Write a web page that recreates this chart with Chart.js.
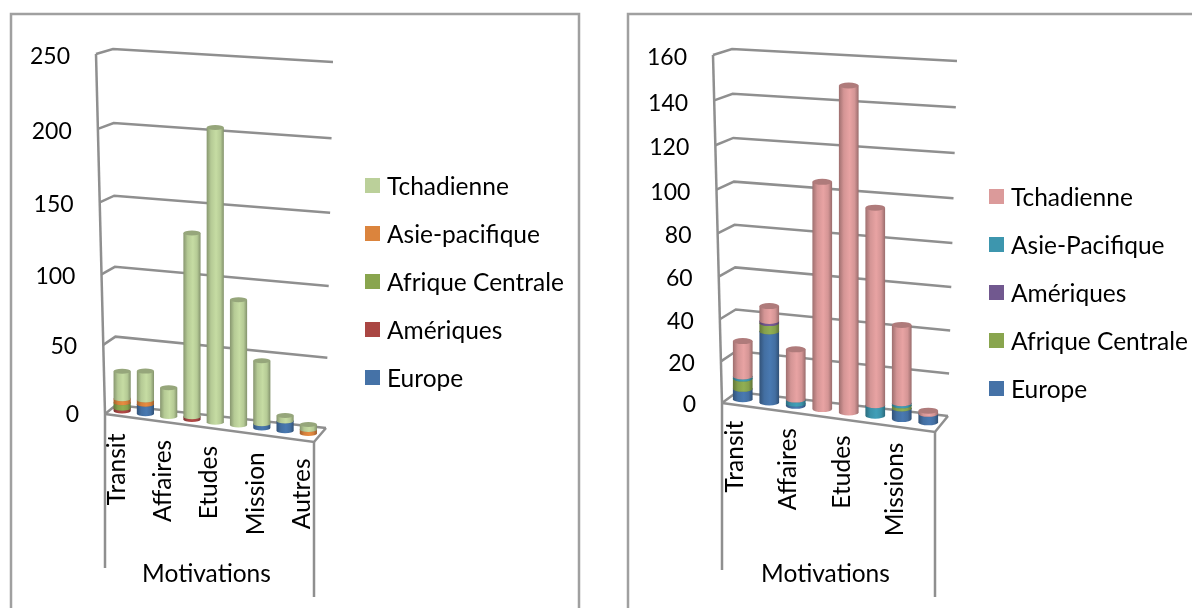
<!DOCTYPE html>
<html>
<head>
<meta charset="utf-8">
<title>Motivations</title>
<script src="https://cdn.jsdelivr.net/npm/chart.js@4"></script>
<style>
    html, body { margin: 0; padding: 0; background: #fff; width: 1192px; height: 608px; overflow: hidden; }
    canvas { position: absolute; top: 0; }
    #graficoA { left: 0; }
    #graficoB { left: 596px; }
    .legenda { position: absolute; font: 24.5px Lato, sans-serif; color: #000; }
    .legenda div { display: flex; align-items: center; height: 48px; white-space: nowrap; }
    .legenda span { display: inline-block; width: 15px; height: 15px; margin-right: 7px; }
</style>
</head>
<body>
<canvas id="graficoA" width="596" height="608"></canvas>
<canvas id="graficoB" width="596" height="608"></canvas>
<div class="legenda" id="legendaA" style="left:365px;top:161px"></div>
<div class="legenda" id="legendaB" style="left:989px;top:172px"></div>

<script>
// Graphique de gauche
const categoriesA = ['Transit', '', 'Affaires', '', 'Etudes', '', 'Mission', '', 'Autres'];
const europeA = [0, 7, 0, 0, 0, 0, 3, 7, 0];
const ameriquesA = [2, 0, 0, 2, 0, 0, 0, 0, 0];
const afriqueCentraleA = [4, 0, 0, 0, 0, 0, 0, 0, 0];
const asiePacifiqueA = [3, 3, 0, 0, 0, 0, 0, 0, 3];
const tchadienneA = [20, 21, 21, 130, 205, 89, 45, 4, 3.5];

// Graphique de droite
const categoriesB = ['Transit', '', 'Affaires', '', 'Etudes', '', 'Missions', ''];
const europeB = [5, 34, 1, 0, 0, 0, 5, 4];
const afriqueCentraleB = [5, 4, 0, 0, 0, 0, 1.5, 0];
const ameriquesB = [0, 1, 0, 0, 0, 0, 0, 0];
const asiePacifiqueB = [1, 0, 2, 0, 0, 5, 1, 0];
const tchadienneB = [17, 7, 24, 105.5, 149, 91, 36.5, 1.5];

const titreAxe = 'Motivations';
const police = 'Lato, sans-serif';
const gris = '#8f8f8f';

// Les axes du dessin 3D : coins du mur et du sol, en pixels du canvas
const decorA = {
    coinBas: [105, 414], coinHaut: [96, 54],
    fondBas: [116, 405], fondHaut: [113, 49],
    finBas: [326, 428], finHaut: [333, 62],
    avantBas: [314, 442],
    piedGauche: 568, piedDroit: 597, ecartLabels: 18, rayon: 2.5,
    cadre: [11, 14, 579]
};
const decorB = {
    coinBas: [126, 403], coinHaut: [117, 55],
    fondBas: [141, 392], fondHaut: [136, 49],
    finBas: [352, 416], finHaut: [361, 61],
    avantBas: [339, 432],
    piedGauche: 570, piedDroit: 597, ecartLabels: 16, rayon: 3,
    cadre: [32, 14, 640]
};

const melange = (a, b, t) => [a[0] + (b[0] - a[0]) * t, a[1] + (b[1] - a[1]) * t];

// Légère correction de perspective sur la hauteur
const perspective = v => v - 0.05 * v * (1 - v);

function nuance(hex, f) {
    const n = parseInt(hex.slice(1), 16);
    const c = [n >> 16, (n >> 8) & 255, n & 255].map(x => Math.min(255, Math.round(x * f)));
    return `rgb(${c[0]},${c[1]},${c[2]})`;
}

function ligne(ctx, points) {
    ctx.beginPath();
    points.forEach((p, i) => i ? ctx.lineTo(p[0], p[1]) : ctx.moveTo(p[0], p[1]));
    ctx.stroke();
}

function dessinerCylindre(ctx, x, bas, haut, largeur, rayon, couleur) {
    const g = ctx.createLinearGradient(x - largeur / 2, 0, x + largeur / 2, 0);
    g.addColorStop(0, nuance(couleur, 0.72));
    g.addColorStop(0.25, nuance(couleur, 0.97));
    g.addColorStop(0.55, nuance(couleur, 1.06));
    g.addColorStop(0.8, nuance(couleur, 0.97));
    g.addColorStop(1, nuance(couleur, 0.7));
    ctx.fillStyle = g;
    ctx.beginPath();
    ctx.moveTo(x - largeur / 2, haut);
    ctx.lineTo(x - largeur / 2, bas);
    ctx.ellipse(x, bas, largeur / 2, rayon, 0, Math.PI, 0, true);
    ctx.lineTo(x + largeur / 2, haut);
    ctx.closePath();
    ctx.fill();
    // Le couvercle
    ctx.fillStyle = nuance(couleur, 0.8);
    ctx.beginPath();
    ctx.ellipse(x, haut, largeur / 2, rayon, 0, 0, Math.PI * 2);
    ctx.fill();
}

const decor3D = {
    id: 'decor3D',
    beforeDraw(chart, args, opts) {
        const ctx = chart.ctx;
        const d = opts.decor;
        const echelleY = chart.scales.y;
        ctx.save();
        ctx.strokeStyle = '#a0a0a0';
        ctx.lineWidth = 2.5;
        // Cadre du graphique
        ligne(ctx, [[d.cadre[0], 620], [d.cadre[0], d.cadre[1]], [d.cadre[2], d.cadre[1]], [d.cadre[2], 620]]);

        ctx.strokeStyle = gris;
        // Lignes de grille sur le mur
        echelleY.ticks.forEach(t => {
            const v = perspective(t.value / echelleY.max);
            ligne(ctx, [
                melange(d.coinBas, d.coinHaut, v),
                melange(d.fondBas, d.fondHaut, v),
                melange(d.finBas, d.finHaut, v)
            ]);
        });
        ligne(ctx, [d.coinBas, d.coinHaut]);
        // Le sol
        ligne(ctx, [d.coinBas, d.avantBas, d.finBas]);
        ligne(ctx, [d.coinBas, [d.coinBas[0], d.piedGauche]]);
        ligne(ctx, [d.avantBas, [d.avantBas[0], d.piedDroit]]);
        ctx.restore();
    },
    beforeDatasetsDraw(chart, args, opts) {
        const ctx = chart.ctx;
        const d = opts.decor;
        const area = chart.chartArea;
        const basG = melange(d.coinBas, d.fondBas, 0.5);
        const basD = melange(d.avantBas, d.finBas, 0.5);
        const hautG = melange(d.coinHaut, d.fondHaut, 0.5);
        const hautD = melange(d.finHaut, [d.finHaut[0] - 16, d.finHaut[1] + 11], 0.5);
        const position = (x, pixelY) => {
            const u = (x - area.left) / area.width;
            const v = perspective((area.bottom - pixelY) / area.height);
            const bas = melange(basG, basD, u);
            const haut = melange(hautG, hautD, u);
            return [bas[0], bas[1] + (haut[1] - bas[1]) * v];
        };
        // Du bas vers le haut, pour que chaque tranche recouvre la précédente
        chart.data.datasets.forEach((ds, i) => {
            chart.getDatasetMeta(i).data.forEach((bar, j) => {
                if (!ds.data[j]) return;
                const pb = position(bar.x, bar.base);
                const ph = position(bar.x, bar.y);
                dessinerCylindre(ctx, pb[0], pb[1], ph[1], bar.width, d.rayon, ds.backgroundColor);
            });
        });
        return false; // les barres sont déjà dessinées
    },
    afterDraw(chart, args, opts) {
        const ctx = chart.ctx;
        const d = opts.decor;
        const echelleX = chart.scales.x;
        const echelleY = chart.scales.y;
        ctx.save();
        ctx.fillStyle = '#000';

        // Valeurs de l'axe Y, elles suivent le mur
        ctx.font = '23px ' + police;
        ctx.textAlign = 'right';
        ctx.textBaseline = 'middle';
        echelleY.ticks.forEach(t => {
            const v = t.value / echelleY.max;
            const y = echelleY.bottom - perspective(v) * echelleY.height;
            ctx.fillText(t.label, melange(d.coinBas, d.coinHaut, v)[0] - 26, y + 1);
        });

        // Catégories tournées, elles suivent le bord du sol
        ctx.font = '24.5px ' + police;
        const pente = (d.avantBas[1] - d.coinBas[1]) / (d.avantBas[0] - d.coinBas[0]);
        chart.data.labels.forEach((label, i) => {
            if (!label) return;
            const x = echelleX.getPixelForValue(i);
            const y = d.coinBas[1] + pente * (x - d.coinBas[0]) + d.ecartLabels;
            ctx.save();
            ctx.translate(x, y);
            ctx.rotate(-Math.PI / 2);
            ctx.fillText(label, 0, 0);
            ctx.restore();
        });

        ctx.textAlign = 'center';
        ctx.fillText(titreAxe, (d.coinBas[0] + d.avantBas[0]) / 2 - 3, 574);
        ctx.restore();
    }
};

function criarLegende(id, datasets) {
    const boite = document.getElementById(id);
    [...datasets].reverse().forEach(ds => {
        const item = document.createElement('div');
        const carre = document.createElement('span');
        carre.style.background = ds.backgroundColor;
        item.appendChild(carre);
        item.appendChild(document.createTextNode(ds.label));
        boite.appendChild(item);
    });
}

function creerGraphique(idCanvas, idLegende, labels, datasets, maxY, pasY, decor) {
    const ctx = document.getElementById(idCanvas).getContext('2d');
    datasets.forEach(ds => { ds.stack = 'total'; });
    criarLegende(idLegende, datasets);
    return new Chart(ctx, {
        type: 'bar',
        data: { labels: labels, datasets: datasets },
        options: {
            responsive: false,
            animation: false,
            datasets: { bar: { barPercentage: 0.74, categoryPercentage: 1 } },
            layout: {
                padding: {
                    left: decor.coinBas[0],
                    right: 596 - decor.avantBas[0],
                    top: decor.coinHaut[1] + 2,
                    bottom: 608 - decor.coinBas[1] - (idCanvas === 'graficoB' ? 1 : 0)
                }
            },
            plugins: {
                legend: { display: false },
                tooltip: { enabled: false },
                decor3D: { decor: decor }
            },
            scales: {
                x: {
                    stacked: true,
                    grid: { display: false },
                    border: { display: false },
                    ticks: { display: false, autoSkip: false },
                    afterFit: s => { s.height = 0; }
                },
                y: {
                    stacked: true,
                    min: 0,
                    max: maxY,
                    grid: { display: false },
                    border: { display: false },
                    ticks: { display: false, stepSize: pasY },
                    afterFit: s => { s.width = 0; }
                }
            }
        },
        plugins: [decor3D]
    });
}

document.addEventListener('DOMContentLoaded', () => {
    creerGraphique('graficoA', 'legendaA', categoriesA, [
        { label: 'Europe', data: europeA, backgroundColor: '#4572a7' },
        { label: 'Amériques', data: ameriquesA, backgroundColor: '#aa4643' },
        { label: 'Afrique Centrale', data: afriqueCentraleA, backgroundColor: '#89a54e' },
        { label: 'Asie-pacifique', data: asiePacifiqueA, backgroundColor: '#db843d' },
        { label: 'Tchadienne', data: tchadienneA, backgroundColor: '#bbd09a' }
    ], 250, 50, decorA);

    creerGraphique('graficoB', 'legendaB', categoriesB, [
        { label: 'Europe', data: europeB, backgroundColor: '#4572a7' },
        { label: 'Afrique Centrale', data: afriqueCentraleB, backgroundColor: '#89a54e' },
        { label: 'Amériques', data: ameriquesB, backgroundColor: '#71588f' },
        { label: 'Asie-Pacifique', data: asiePacifiqueB, backgroundColor: '#3d96ae' },
        { label: 'Tchadienne', data: tchadienneB, backgroundColor: '#db9a9a' }
    ], 160, 20, decorB);
});
</script>
</body>
</html>
